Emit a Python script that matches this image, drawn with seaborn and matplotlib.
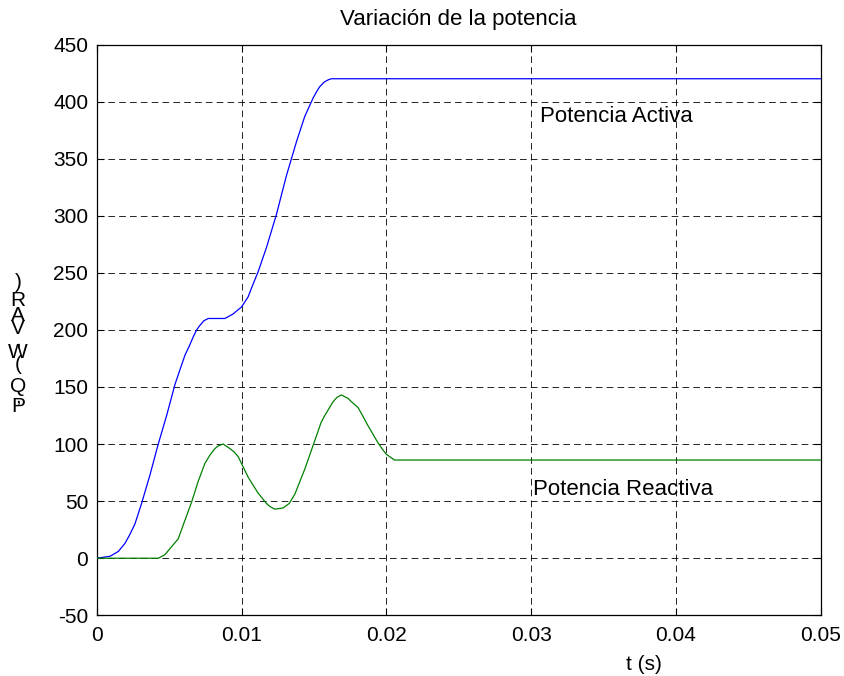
import matplotlib
matplotlib.use("Agg")
import matplotlib.pyplot as plt
import seaborn as sns
import pandas as pd

# ---- data ----
t_activa = [0.0, 0.00092, 0.0015, 0.00195, 0.0023, 0.00264, 0.0031, 0.00368, 0.00425, 0.00483,
            0.0054, 0.0058, 0.0061, 0.0064, 0.00667, 0.0069, 0.00713, 0.0074, 0.0077, 0.0082,
            0.00885, 0.00943, 0.0097, 0.0100, 0.01046, 0.0107, 0.01115, 0.01172, 0.01241,
            0.0131, 0.0138, 0.01437, 0.01494, 0.0152, 0.0154, 0.0157, 0.01598, 0.0162, 0.01644, 0.05]
p_activa = [0, 1.7, 6, 13, 21, 30, 48, 73, 100, 125,
            152, 167, 178, 186, 194, 200, 204, 208, 210, 210,
            210, 214, 217, 220, 229, 237, 251, 272, 301,
            335, 365, 387, 403, 409, 413, 417, 419, 420, 420, 420]

t_reactiva = [0.0, 0.00425, 0.0047, 0.0051, 0.00563, 0.0060, 0.00655, 0.0070, 0.00747, 0.0078,
              0.00816, 0.0084, 0.00874, 0.0092, 0.0095, 0.00977, 0.01046, 0.0108, 0.01115,
              0.01172, 0.0120, 0.0123, 0.01287, 0.0133, 0.01368, 0.01437, 0.0147, 0.01506,
              0.0155, 0.01575, 0.01632, 0.0166, 0.0169, 0.01736, 0.0176, 0.01805, 0.0184,
              0.01874, 0.01943, 0.0197, 0.0200, 0.02057, 0.05]
q_reactiva = [0, 0, 3, 9, 17, 30, 49, 67, 83, 90,
              96, 98.5, 100, 96, 93, 89, 71, 64, 57,
              48, 45, 43, 44, 48, 56, 78, 90, 103,
              119, 125, 137, 141, 143, 140, 137, 132, 124,
              116, 101, 96, 91, 86, 86]

x_ticks = [0, 0.01, 0.02, 0.03, 0.04, 0.05]
x_tick_labels = ["0", "0.01", "0.02", "0.03", "0.04", "0.05"]
y_ticks = [-50, 0, 50, 100, 150, 200, 250, 300, 350, 400, 450]

title = "Variación de la potencia"
xlabel = "t (s)"
ylabel = "P,Q (W,VAR)"
label_activa = "Potencia Activa"
label_reactiva = "Potencia Reactiva"

sns.set_theme(style="white")
plt.rcParams["font.family"] = ["Liberation Sans", "DejaVu Sans"]
plt.rcParams["axes.unicode_minus"] = False
FS = 15

fig = plt.figure(figsize=(8.45, 6.76), dpi=100)
ax = fig.add_axes([96.7 / 845, 1 - 615.3 / 676, (820.7 - 96.7) / 845, (615.3 - 44.5) / 676])

df_a = pd.DataFrame({"t": t_activa, "P": p_activa})
df_r = pd.DataFrame({"t": t_reactiva, "Q": q_reactiva})
sns.lineplot(data=df_a, x="t", y="P", ax=ax, color="#0000ff", lw=0.9, sort=False, zorder=3)
sns.lineplot(data=df_r, x="t", y="Q", ax=ax, color="#008000", lw=0.9, sort=False, zorder=3)

ax.set_xlim(0, 0.05)
ax.set_ylim(-50, 450)
ax.set_xticks(x_ticks)
ax.set_xticklabels(x_tick_labels)
ax.set_yticks(y_ticks)
ax.grid(True, color="black", linestyle=(0, (8, 5)), linewidth=0.6)
ax.set_axisbelow(True)
for s in ax.spines.values():
    s.set_color("black")
    s.set_linewidth(0.9)
ax.tick_params(axis="both", direction="in", length=5, width=0.8, color="black",
               labelsize=FS, labelcolor="black", top=True, right=True,
               bottom=True, left=True)
ax.tick_params(axis="x", pad=8)
ax.tick_params(axis="y", pad=6)

ax.set_xlabel("")
ax.set_ylabel("")
ax.set_title(title, fontsize=16, color="black", pad=14)
fig.text(644 / 845, 1 - 664 / 676, xlabel, ha="center", va="center", fontsize=FS, color="black")

ax.text(0.03061, 387, label_activa, ha="left", va="center", fontsize=16, color="black")
ax.text(0.03015, 60, label_reactiva, ha="left", va="center", fontsize=16, color="black")

# stacked (vertical) y label as in the reference
centers = [407, 397, 386, 375, 364, 353, 340, 328, 316, 300, 283]
chars = list(ylabel)  # bottom-to-top order
for ch, yc in zip(chars, centers):
    if ch == " ":
        continue
    fig.text(18 / 845, 1 - yc / 676, ch, ha="center", va="center", fontsize=FS, color="black")

fig.savefig("out.png", dpi=100, facecolor="white")
